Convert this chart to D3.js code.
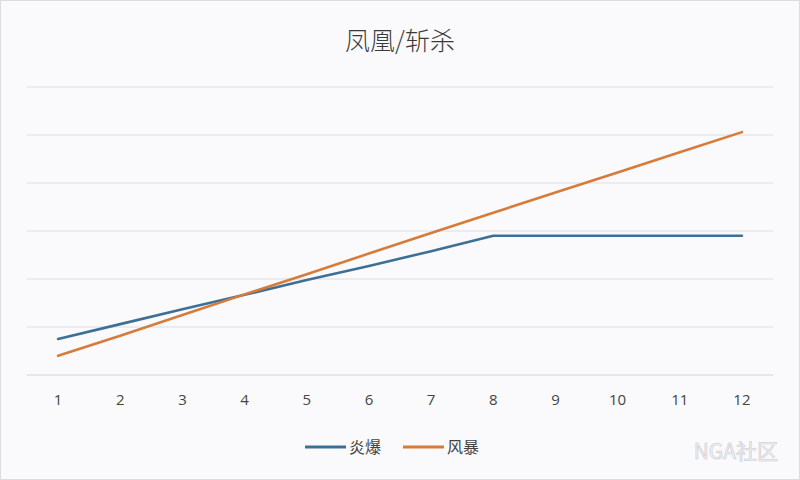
<!DOCTYPE html>
<html><head><meta charset="utf-8">
<script src="https://cdn.jsdelivr.net/npm/d3@7/dist/d3.min.js"></script>
<style>body{margin:0;background:#fff}svg{display:block}</style>
</head><body><svg id="c" width="800" height="480"></svg>
<script>
const categories = ["1","2","3","4","5","6","7","8","9","10","11","12"];
const seriesNames = ["炎爆","风暴"];
const yanbao = [0.75,1.06,1.37,1.67,1.98,2.27,2.58,2.9,2.9,2.9,2.9,2.9];
const fengbao = [0.40,0.82,1.25,1.68,2.10,2.53,2.96,3.38,3.80,4.22,4.64,5.06];
const yTicks = [0,1,2,3,4,5,6];
const colors = ["#3e7096","#d67b3a"];
const title = "凤凰/斩杀";

const svg = d3.select("#c");
const font = "'Noto Sans CJK SC','Noto Sans',sans-serif";
svg.append("rect").attr("x",0).attr("y",0).attr("width",800).attr("height",480).attr("fill","#fafafd");
svg.append("rect").attr("x",0.5).attr("y",0.5).attr("width",799).attr("height",479).attr("fill","none").attr("stroke","#dcdce0");

const x = d3.scaleBand().domain(categories).range([27,773]);
const y = d3.scaleLinear().domain([0,6]).range([375,87]);

svg.append("g").selectAll("line").data(yTicks).join("line")
  .attr("x1",27).attr("x2",773).attr("y1",d=>y(d)).attr("y2",d=>y(d))
  .attr("stroke",d=>d===0?"#d2d2d6":"#dedee3").attr("stroke-width",1);

const xAxis = svg.append("g").attr("transform","translate(0,375)")
  .call(d3.axisBottom(x).tickSize(0).tickPadding(19));
xAxis.select(".domain").remove();
xAxis.selectAll("text").attr("font-family","'Open Sans',sans-serif").attr("font-size",15).attr("fill","#444");

const line = d3.line().x((d,i)=>x(categories[i])+x.bandwidth()/2).y(d=>y(d));
[yanbao,fengbao].forEach((s,k)=>{
  svg.append("path").datum(s).attr("d",line).attr("fill","none")
    .attr("stroke",colors[k]).attr("stroke-width",2.6).attr("stroke-linecap","round").attr("stroke-linejoin","round");
});

svg.append("text").attr("x",400).attr("y",50).attr("text-anchor","middle")
  .attr("font-family",font).attr("font-size",25).attr("font-weight",300).attr("fill","#3a3a3a").text(title);

const leg = [{x:305},{x:403}];
seriesNames.forEach((n,k)=>{
  const g = svg.append("g").attr("transform",`translate(${leg[k].x},447)`);
  g.append("line").attr("x1",0).attr("x2",41).attr("y1",0).attr("y2",0).attr("stroke",colors[k]).attr("stroke-width",3);
  g.append("text").attr("x",44).attr("y",6).attr("font-family",font).attr("font-size",16).attr("fill","#444").text(n);
});

svg.append("text").attr("x",778).attr("y",459).attr("text-anchor","end")
  .attr("font-family",font).attr("font-size",21).attr("fill","#f4f4f6")
  .attr("stroke","#c8c8cc").attr("stroke-width",0.6).text("NGA社区");
</script></body></html>
